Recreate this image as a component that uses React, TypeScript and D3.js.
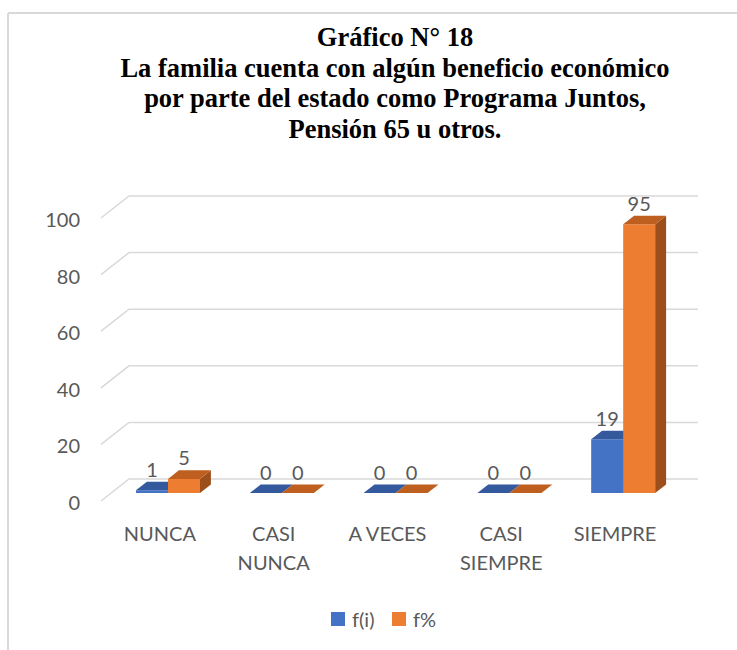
import React from "react";
import * as d3 from "d3";

const categories = ["NUNCA", "CASI NUNCA", "A VECES", "CASI SIEMPRE", "SIEMPRE"];
const categoryLines = [["NUNCA"], ["CASI", "NUNCA"], ["A VECES"], ["CASI", "SIEMPRE"], ["SIEMPRE"]];
const seriesNames = ["f(i)", "f%"];
const fiValues = [1, 0, 0, 0, 19];
const fpValues = [5, 0, 0, 0, 95];
const yTicks = [0, 20, 40, 60, 80, 100];
const titleLines = [
  "Gráfico N° 18",
  "La familia cuenta con algún beneficio económico",
  "por parte del estado como Programa Juntos,",
  "Pensión 65 u otros.",
];

const W = 737;
const H = 650;
const x0 = 101;
const x1 = 670;
const depthDX = 28;
const depthDY = -22;
const barD0 = 0.36;
const barD1 = 0.75;
const barW = 32;

const colors = [
  { front: "#4472C4", top: "#34599C", side: "#2F5090" },
  { front: "#ED7D31", top: "#BE5E1F", side: "#9C4F1B" },
];

const textColor = "#595959";
const gridColor = "#D9D9D9";
const sansFont = "Lato, 'Open Sans', sans-serif";
const serifFont = '"Liberation Serif", "Times New Roman", "DejaVu Serif", serif';

export default function App() {
  const xBand = d3.scaleBand<string>().domain(categories).range([x0, x1]);
  const yScale = d3.scaleLinear().domain([0, 100]).range([501, 218]);

  const P = (xf: number, v: number, d: number): [number, number] => [
    xf + depthDX * d,
    yScale(v) + depthDY * d,
  ];
  const poly = (pts: [number, number][]) => pts.map((p) => p.join(",")).join(" ");

  const series = [fiValues, fpValues];

  const bars: React.ReactNode[] = [];
  const labels: React.ReactNode[] = [];
  categories.forEach((c, ci) => {
    const center = (xBand(c) as number) + xBand.bandwidth() / 2;
    series.forEach((vals, si) => {
      const v = vals[ci];
      const xl = center - barW + si * barW;
      const xr = xl + barW;
      const col = colors[si];
      const fbl = P(xl, 0, barD0);
      const fbr = P(xr, 0, barD0);
      const ftl = P(xl, v, barD0);
      const ftr = P(xr, v, barD0);
      const btl = P(xl, v, barD1);
      const btr = P(xr, v, barD1);
      const bbr = P(xr, 0, barD1);
      bars.push(
        <g key={`b-${ci}-${si}`}>
          {v > 0 && <polygon points={poly([fbl, fbr, ftr, ftl])} fill={col.front} />}
          {v > 0 && <polygon points={poly([fbr, bbr, btr, ftr])} fill={col.side} />}
          <polygon points={poly([ftl, ftr, btr, btl])} fill={col.top} />
        </g>
      );
      labels.push(
        <text
          key={`l-${ci}-${si}`}
          x={(ftl[0] + ftr[0]) / 2}
          y={btl[1] - 13}
          textAnchor="middle"
          dominantBaseline="central"
          style={{ fontFamily: sansFont }}
          fontSize={20}
          fill={textColor}
        >
          {v}
        </text>
      );
    });
  });

  return (
    <svg
      width={W}
      height={H}
      style={{ position: "absolute", left: 0, top: 0, background: "#fff" }}
    >
      <rect x={0} y={0} width={W} height={H} fill="#fff" />
      {/* outer border */}
      <line x1={8} y1={13} x2={W} y2={13} stroke={gridColor} strokeWidth={2} />
      <line x1={8} y1={13} x2={8} y2={H} stroke={gridColor} strokeWidth={2} />

      {/* title */}
      {titleLines.map((t, i) => (
        <text
          key={`t${i}`}
          x={395}
          y={37 + i * 30.7}
          textAnchor="middle"
          dominantBaseline="central"
          style={{ fontFamily: serifFont, fontWeight: 700 }}
          fontSize={26.5}
          fill="#000"
        >
          {t}
        </text>
      ))}

      {/* gridlines */}
      {yTicks.map((t) => {
        const a = P(x0, t, 0);
        const b = P(x0, t, 1);
        const c = P(x1, t, 1);
        return (
          <g key={`g${t}`}>
            <polyline
              points={poly([a, b, c])}
              fill="none"
              stroke={gridColor}
              strokeWidth={1.5}
            />
            <text
              x={80}
              y={a[1] + 1}
              textAnchor="end"
              dominantBaseline="central"
              style={{ fontFamily: sansFont }}
              fontSize={20}
              fill={textColor}
            >
              {t}
            </text>
          </g>
        );
      })}

      {bars}
      {labels}

      {/* category labels */}
      {categories.map((c, ci) => {
        const center = (xBand(c) as number) + xBand.bandwidth() / 2 + 2;
        return (
          <text
            key={`c${ci}`}
            textAnchor="middle"
            style={{ fontFamily: sansFont }}
            fontSize={20}
            fill={textColor}
          >
            {categoryLines[ci].map((ln, li) => (
              <tspan key={li} x={center} y={533 + li * 29} dominantBaseline="central">
                {ln}
              </tspan>
            ))}
          </text>
        );
      })}

      {/* legend */}
      {seriesNames.map((s, si) => {
        const lx = si === 0 ? 331 : 392;
        return (
          <g key={`lg${si}`}>
            <rect x={lx} y={612} width={14} height={14} fill={colors[si].front} />
            <text
              x={lx + 21}
              y={619}
              dominantBaseline="central"
              style={{ fontFamily: sansFont }}
              fontSize={20}
              fill={textColor}
            >
              {s}
            </text>
          </g>
        );
      })}
    </svg>
  );
}
